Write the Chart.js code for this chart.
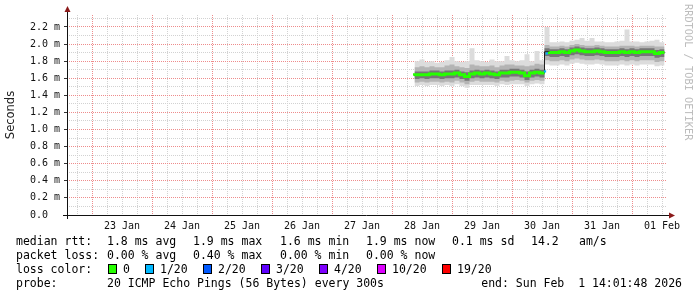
<!DOCTYPE html>
<html><head><meta charset="utf-8">
<script src="https://cdn.jsdelivr.net/npm/chart.js@4.4.1/dist/chart.umd.min.js"></script>
<style>
html,body{margin:0;padding:0;background:#fff;}
#wrap{position:relative;width:697px;height:297px;overflow:hidden;background:#fff;}
canvas{position:absolute;left:0;top:0;}
.t{position:absolute;font-family:'DejaVu Sans Mono',monospace;font-size:11.5px;line-height:14px;color:#000;white-space:pre;}
.sw{position:absolute;width:9px;height:10px;border:1px solid #000;box-sizing:border-box;}
#wm{position:absolute;left:695px;top:4px;font-family:'DejaVu Sans Mono',monospace;font-size:10.3px;line-height:12px;color:#bdbdbd;transform:rotate(90deg);transform-origin:left top;white-space:pre;}
</style></head>
<body><div id="wrap"><canvas id="c" width="697" height="297"></canvas><div id="wm">RRDTOOL / TOBI OETIKER</div></div>
<script>
// time axis: hours since 22 Jan 00:00
const times = [153,155,157,159,161,163,165,167,169,171,173,175,177,179,181,183,185,187,189,191,193,195,197,199,201,203,205,
  207,209,211,213,215,217,219,221,223,225,227,229,231,233,235,237,239,241,243,245,247,249,251,253];
const medianRtt = [1.63,1.64,1.64,1.64,1.65,1.65,1.64,1.65,1.65,1.66,1.64,1.62,1.65,1.66,1.65,1.66,1.65,1.64,1.66,1.66,1.67,1.67,1.66,1.63,1.66,1.67,1.66,
  1.91,1.90,1.90,1.91,1.90,1.92,1.93,1.92,1.91,1.91,1.92,1.91,1.90,1.90,1.90,1.91,1.90,1.91,1.90,1.91,1.91,1.91,1.89,1.90];
const smokeMax = [1.78,1.80,1.82,1.79,1.80,1.78,1.79,1.81,1.85,1.80,1.79,1.80,1.95,1.81,1.80,1.79,1.82,1.80,1.80,1.86,1.81,1.80,1.81,1.88,1.80,1.92,1.81,
  2.20,2.02,2.02,2.03,2.02,2.04,2.05,2.07,2.04,2.07,2.03,2.03,2.02,2.02,2.03,2.04,2.17,2.03,2.03,2.02,2.03,2.04,2.05,2.02];
const smokeP90 = [1.72,1.73,1.74,1.73,1.74,1.73,1.73,1.75,1.76,1.74,1.73,1.72,1.76,1.75,1.74,1.74,1.75,1.73,1.75,1.76,1.76,1.75,1.75,1.74,1.75,1.77,1.76,
  1.99,1.97,1.97,1.98,1.97,1.99,2.00,1.99,1.98,1.98,1.99,1.98,1.97,1.97,1.97,1.98,1.98,1.98,1.97,1.98,1.98,1.98,1.97,1.97];
const smokeP75 = [1.67,1.68,1.68,1.68,1.69,1.69,1.68,1.69,1.69,1.70,1.68,1.67,1.69,1.70,1.69,1.70,1.69,1.68,1.70,1.70,1.71,1.71,1.70,1.68,1.70,1.71,1.70,
  1.95,1.94,1.94,1.95,1.94,1.96,1.97,1.96,1.95,1.95,1.96,1.95,1.94,1.94,1.94,1.95,1.94,1.95,1.94,1.95,1.95,1.95,1.93,1.94];
const smokeP25 = [1.59,1.59,1.60,1.59,1.60,1.60,1.59,1.60,1.60,1.61,1.59,1.57,1.60,1.61,1.60,1.61,1.60,1.59,1.61,1.61,1.62,1.62,1.61,1.58,1.61,1.62,1.61,
  1.86,1.85,1.85,1.86,1.85,1.87,1.88,1.87,1.86,1.86,1.87,1.86,1.85,1.85,1.85,1.86,1.85,1.86,1.85,1.86,1.86,1.86,1.84,1.85];
const smokeP10 = [1.55,1.55,1.56,1.55,1.56,1.56,1.55,1.56,1.55,1.57,1.55,1.53,1.56,1.57,1.56,1.56,1.56,1.55,1.57,1.56,1.57,1.58,1.57,1.55,1.57,1.58,1.57,
  1.81,1.80,1.80,1.81,1.80,1.82,1.83,1.82,1.81,1.81,1.82,1.81,1.80,1.80,1.80,1.81,1.80,1.81,1.80,1.81,1.81,1.81,1.79,1.80];
const smokeMin = [1.51,1.51,1.52,1.51,1.52,1.52,1.51,1.52,1.51,1.53,1.51,1.49,1.52,1.52,1.52,1.52,1.52,1.51,1.53,1.52,1.53,1.53,1.53,1.51,1.53,1.54,1.53,
  1.76,1.75,1.75,1.76,1.75,1.77,1.78,1.77,1.76,1.76,1.77,1.76,1.75,1.75,1.75,1.76,1.75,1.76,1.75,1.76,1.76,1.76,1.74,1.75];
const lossTimes = [205.2, 205.9];
const lossValues = [1.68, 1.89];

const xTickLabels = ['23 Jan','24 Jan','25 Jan','26 Jan','27 Jan','28 Jan','29 Jan','30 Jan','31 Jan','01 Feb'];
const xLabelHours = [36,60,84,108,132,156,180,204,228,252];
const yTickLabels = ['0.0  ','0.2 m','0.4 m','0.6 m','0.8 m','1.0 m','1.2 m','1.4 m','1.6 m','1.8 m','2.0 m','2.2 m'];

const lossColors = ['#26ff00','#00b8ff','#0059ff','#5e00ff','#7e00ff','#dd00ff','#ff0000'];
const lossLabels = ['0','1/20','2/20','3/20','4/20','10/20','19/20'];

const MAJOR = '#ee8c8c';
const MINOR = '#d2d2d2';

const pts = arr => times.map((t,i)=>({x:t,y:arr[i]}));
const smokeBase = {pointRadius:0, borderWidth:0, stepped:'after', tension:0};

const axesPlugin = {
  id:'rrdAxes',
  afterDraw(chart){
    const {ctx, chartArea:a} = chart;
    ctx.save();
    ctx.strokeStyle = '#111'; ctx.lineWidth = 1;
    ctx.beginPath();
    ctx.moveTo(a.left-4, a.bottom+0.5); ctx.lineTo(a.right+3, a.bottom+0.5);
    ctx.moveTo(a.left+0.5, a.bottom+4); ctx.lineTo(a.left+0.5, a.top-3);
    ctx.stroke();
    ctx.fillStyle = '#8b1a1a';
    ctx.beginPath();
    ctx.moveTo(a.right+2, a.bottom-2.5); ctx.lineTo(a.right+8, a.bottom+0.5); ctx.lineTo(a.right+2, a.bottom+3.5);
    ctx.closePath(); ctx.fill();
    ctx.beginPath();
    ctx.moveTo(a.left-2.5, a.top-3); ctx.lineTo(a.left+0.5, a.top-9); ctx.lineTo(a.left+3.5, a.top-3);
    ctx.closePath(); ctx.fill();
    ctx.restore();
  }
};

new Chart(document.getElementById('c'), {
  type:'line',
  data:{datasets:[
    {data: lossTimes.map((t,i)=>({x:t,y:lossValues[i]})), showLine:false, pointStyle:'rect', pointRadius:1.6, pointBackgroundColor:'#00b8ff', pointBorderWidth:0},
    {data: pts(medianRtt), borderColor:'#26ff00', borderWidth:3, pointRadius:0, stepped:'after', borderCapStyle:'butt',
      segment:{borderColor: c => Math.abs(c.p1.parsed.y - c.p0.parsed.y) > 0.1 ? 'rgba(0,0,0,0)' : undefined}},
    {data: pts(medianRtt), borderColor:'#202020', borderWidth:1, pointRadius:0, stepped:'after'},
    {...smokeBase, data: pts(smokeP75), fill:6, backgroundColor:'#767676'},
    {...smokeBase, data: pts(smokeP90), fill:7, backgroundColor:'#b4b4b4'},
    {...smokeBase, data: pts(smokeMax), fill:8, backgroundColor:'#dcdcdc'},
    {...smokeBase, data: pts(smokeP25), fill:false},
    {...smokeBase, data: pts(smokeP10), fill:false},
    {...smokeBase, data: pts(smokeMin), fill:false}
  ]},
  options:{
    responsive:false, animation:false, devicePixelRatio:1,
    layout:{padding:{left:0, right:30, top:15, bottom:62}},
    plugins:{legend:{display:false}, tooltip:{enabled:false}},
    scales:{
      x:{type:'linear', min:14, max:254,
        afterBuildTicks: s => { const tk=[]; for(let h=18; h<=252; h+=6) tk.push({value:h}); s.ticks = tk; },
        afterFit: s => { s.height = 20; },
        grid:{color: c => (c.tick && c.tick.value % 24 === 0) ? MAJOR : MINOR, lineWidth:1, drawTicks:true, tickLength:2, tickColor:'rgba(0,0,0,0)'},
        border:{display:false, dash:[1,1]},
        ticks:{autoSkip:false, maxRotation:0, padding:3, color:'#111', font:{family:'DejaVu Sans Mono', size:10},
          callback: v => { const i = xLabelHours.indexOf(v); return i >= 0 ? xTickLabels[i] : ''; }}
      },
      y:{type:'linear', min:0, max:2.34,
        afterBuildTicks: s => { const tk=[]; for(let i=0;i<=23;i++) tk.push({value:i/10}); s.ticks = tk; },
        afterFit: s => { s.width = 67; },
        grid:{color: c => (c.index % 2 === 0) ? MAJOR : MINOR, lineWidth:1, drawTicks:true, tickLength:3,
          tickColor: c => (c.index % 2 === 0) ? '#333' : 'rgba(0,0,0,0)'},
        border:{display:false, dash:[1,1]},
        ticks:{autoSkip:false, padding:4, color:'#111', font:{family:'DejaVu Sans Mono', size:10},
          callback: (v,i) => i % 2 === 0 ? yTickLabels[i/2] : ''},
        title:{display:true, text:'Seconds', color:'#222', font:{family:'DejaVu Sans', size:11.5}, padding:{top:4,bottom:0}}
      }
    }
  },
  plugins:[axesPlugin]
});

// legend (real text)
const wrap = document.getElementById('wrap');
function addText(txt, x, y){ const d=document.createElement('div'); d.className='t'; d.textContent=txt; d.style.left=x+'px'; d.style.top=y+'px'; wrap.appendChild(d); return d; }
const colX = [107,193,280,366,452];
const rttItems = ['1.8 ms avg','1.9 ms max','1.6 ms min','1.9 ms now','0.1 ms sd'];
const lossItems = ['0.00 % avg','0.40 % max','0.00 % min','0.00 % now'];
const rows = [234,248,262,276];
addText('median rtt:', 16, rows[0]);
rttItems.forEach((s,i)=>addText(s, colX[i], rows[0]));
addText('14.2', 531, rows[0]); addText('am/s', 579, rows[0]);
addText('packet loss:', 16, rows[1]);
lossItems.forEach((s,i)=>addText(s, colX[i], rows[1]));
addText('loss color:', 16, rows[2]);
const boxX = [108,145,203,261,319,377,442];
lossLabels.forEach((s,i)=>{
  const b=document.createElement('div'); b.className='sw'; b.style.left=boxX[i]+'px'; b.style.top=(rows[2]+2)+'px'; b.style.background=lossColors[i]; wrap.appendChild(b);
  addText(s, boxX[i]+15, rows[2]);
});
addText('probe:', 16, rows[3]);
addText('20 ICMP Echo Pings (56 Bytes) every 300s', 107, rows[3]);
const endT = addText('end: Sun Feb  1 14:01:48 2026', 0, rows[3]); endT.style.left=''; endT.style.right='15px';
</script></body></html>
